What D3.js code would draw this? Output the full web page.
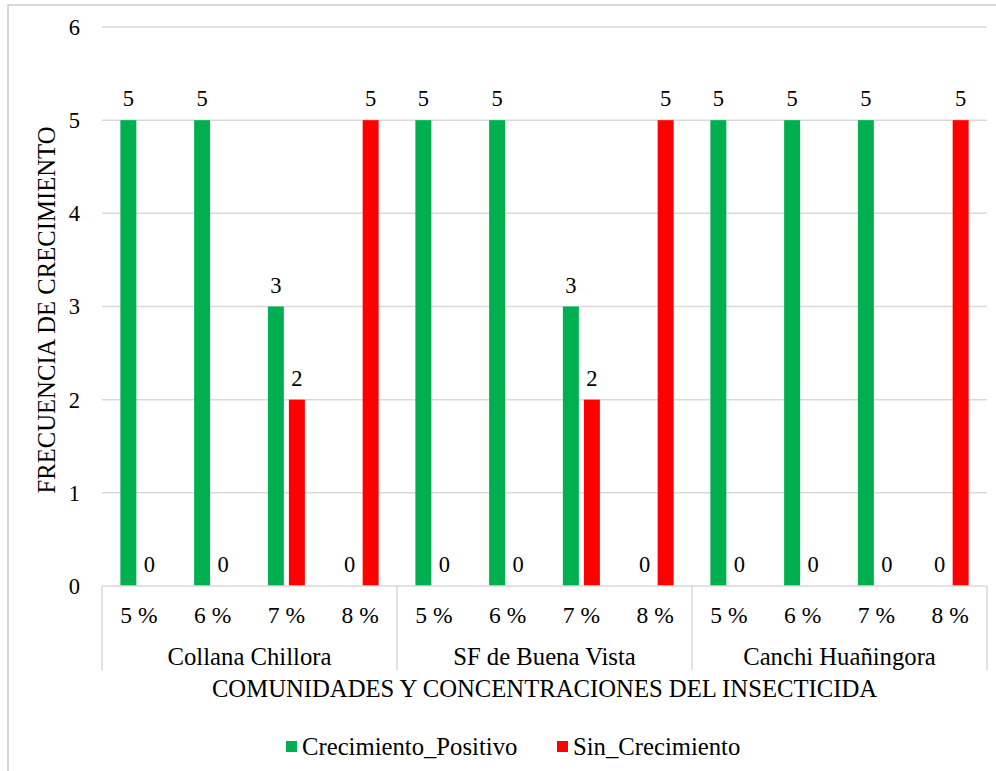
<!DOCTYPE html>
<html>
<head>
<meta charset="utf-8">
<script src="https://cdn.jsdelivr.net/npm/d3@7"></script>
<style>
  html, body { margin: 0; padding: 0; background: #fff; }
  svg { display: block; }
  svg text { font-family: "Times New Roman", "Liberation Serif", "DejaVu Serif", serif; }
</style>
</head>
<body>
<svg id="chart" width="996" height="771"></svg>
<script>
const communities = ["Collana Chillora", "SF de Buena Vista", "Canchi Huañingora"];
const concentrations = ["5 %", "6 %", "7 %", "8 %"];
const seriesNames = ["Crecimiento_Positivo", "Sin_Crecimiento"];
const crecimientoPositivo = [5, 5, 3, 0, 5, 5, 3, 0, 5, 5, 5, 0];
const sinCrecimiento = [0, 0, 2, 5, 0, 0, 2, 5, 0, 0, 0, 5];
const yTicks = [0, 1, 2, 3, 4, 5, 6];
const colors = ["#00b050", "#ff0000"];

(function () {
const FONT = '"Times New Roman", "Liberation Serif", "DejaVu Serif", serif';
const svg = d3.select("#chart").attr("font-family", FONT);
const pLeft = 102, pRight = 987, pTop = 27, pBottom = 586;
const TXT = 24.7;

// Outer chart frame (left + top visible)
svg.append("rect").attr("x", 8).attr("y", 5).attr("width", 1000).attr("height", 800)
  .attr("fill", "none").attr("stroke", "#d9d9d9").attr("stroke-width", 2);

const cats = [];
communities.forEach((c, gi) => concentrations.forEach((k, ki) => cats.push({ id: gi + "-" + ki, group: c, conc: k, gi, ki })));

const x = d3.scaleBand().domain(cats.map(d => d.id)).range([pLeft, pRight]).padding(0);
const cw = x.bandwidth();
const inner = 37;
const xs = d3.scaleBand().domain(seriesNames).range([(cw - inner) / 2, (cw + inner) / 2]).paddingInner(0.24);
const y = d3.scaleLinear().domain([0, 6]).range([pBottom, pTop]);

// gridlines
svg.append("g").selectAll("line").data(yTicks.filter(t => t > 0)).join("line")
  .attr("x1", pLeft).attr("x2", pRight)
  .attr("y1", d => y(d)).attr("y2", d => y(d))
  .attr("stroke", "#d9d9d9").attr("stroke-width", 1.5);

// y tick labels
svg.append("g").selectAll("text").data(yTicks).join("text")
  .attr("x", 80).attr("y", d => y(d)).attr("dy", "0.35em")
  .attr("text-anchor", "end").attr("font-size", 22.5).attr("fill", "#000")
  .text(d => d);

// bars
const seriesData = [crecimientoPositivo, sinCrecimiento];
seriesData.forEach((vals, si) => {
  const g = svg.append("g");
  g.selectAll("rect").data(cats).join("rect")
    .attr("x", (d) => x(d.id) + xs(seriesNames[si]))
    .attr("width", xs.bandwidth())
    .attr("y", (d, i) => y(vals[i]))
    .attr("height", (d, i) => y(0) - y(vals[i]))
    .attr("fill", colors[si]);
  g.selectAll("text").data(cats).join("text")
    .attr("x", (d) => x(d.id) + xs(seriesNames[si]) + xs.bandwidth() / 2)
    .attr("y", (d, i) => y(vals[i]) - 14)
    .attr("text-anchor", "middle").attr("font-size", 22.5).attr("fill", "#000")
    .text((d, i) => vals[i]);
});

// x axis baseline
svg.append("line").attr("x1", pLeft).attr("x2", pRight).attr("y1", pBottom).attr("y2", pBottom)
  .attr("stroke", "#d9d9d9").attr("stroke-width", 1.5);

// group separators
const groupEdges = [0, 4, 8, 12].map(i => i < 12 ? x(cats[i].id) : pRight);
svg.append("g").selectAll("line").data(groupEdges).join("line")
  .attr("x1", d => d).attr("x2", d => d).attr("y1", pBottom).attr("y2", 670)
  .attr("stroke", "#d9d9d9").attr("stroke-width", 1.5);

// concentration labels
svg.append("g").selectAll("text").data(cats).join("text")
  .attr("x", d => x(d.id) + cw / 2).attr("y", 623)
  .attr("text-anchor", "middle").attr("font-size", 23.5).attr("fill", "#000")
  .text(d => d.conc);

// group labels
svg.append("g").selectAll("text").data(communities).join("text")
  .attr("x", (d, i) => (groupEdges[i] + groupEdges[i + 1]) / 2).attr("y", 665)
  .attr("text-anchor", "middle").attr("font-size", TXT).attr("fill", "#000")
  .text(d => d);

// axis titles
svg.append("text").attr("x", (pLeft + pRight) / 2).attr("y", 697)
  .attr("text-anchor", "middle").attr("font-size", TXT).attr("fill", "#000")
  .text("COMUNIDADES Y CONCENTRACIONES DEL INSECTICIDA");

svg.append("text").attr("transform", "translate(55,310) rotate(-90)")
  .attr("text-anchor", "middle").attr("font-size", TXT).attr("fill", "#000")
  .text("FRECUENCIA DE CRECIMIENTO");

// legend
const legendX = [286, 557];
const lg = svg.append("g").selectAll("g").data(seriesNames).join("g")
  .attr("transform", (d, i) => `translate(${legendX[i]},741)`);
lg.append("rect").attr("width", 11).attr("height", 11).attr("fill", (d, i) => colors[i]);
lg.append("text").attr("x", 16).attr("y", 14).attr("font-size", TXT).attr("fill", "#000").text(d => d);
})();
</script>
</body>
</html>
